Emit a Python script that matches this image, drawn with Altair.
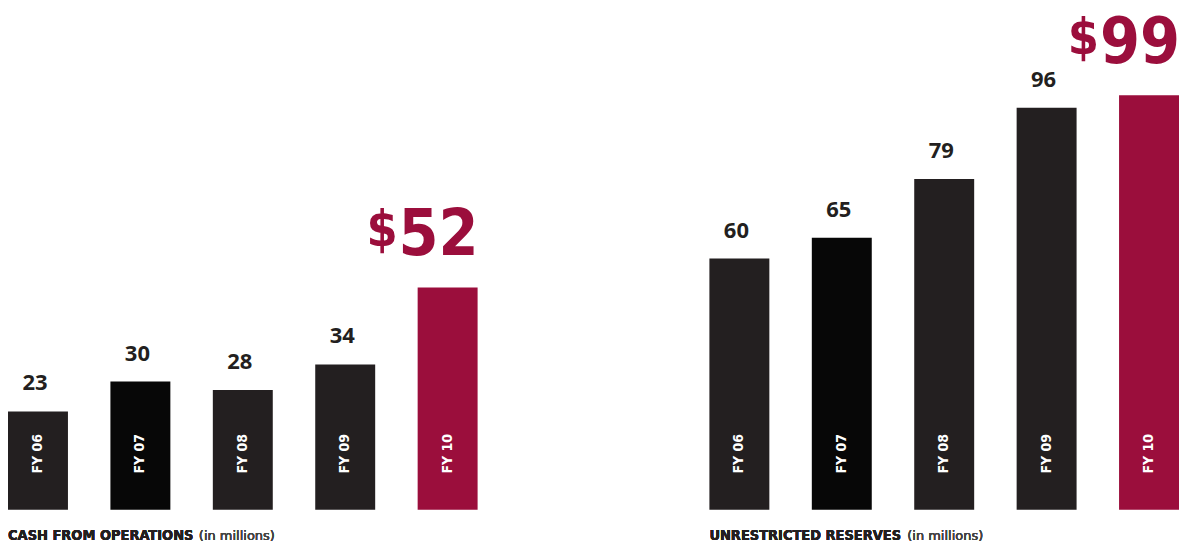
import altair as alt
import pandas as pd

years = ["FY 06", "FY 07", "FY 08", "FY 09", "FY 10"]
cash = [23, 30, 28, 34, 52]
reserves = [60, 65, 79, 96, 99]
bar_colors = ["#231f20", "#070707", "#231f20", "#231f20", "#9b0e3c"]
titles = ["CASH FROM OPERATIONS", "UNRESTRICTED RESERVES"]
unit_note = "(in millions)"

NARROW = "DejaVu Sans Condensed, sans-serif"
CRIMSON = "#9b0e3c"
DARK = "#231f20"
PANEL_W = 470
PANEL_H = 502


def panel(vals, title, ymax, note_x):
    df = pd.DataFrame({"year": years, "value": vals, "label": [str(v) for v in vals]})
    xenc = alt.X("year:N", sort=years, axis=None,
                 scale=alt.Scale(paddingInner=0.41463, paddingOuter=0))
    ysc = alt.Scale(domain=[0, ymax], nice=False, zero=True)
    base = alt.Chart(df).encode(x=xenc)

    bars = base.mark_bar().encode(
        y=alt.Y("value:Q", axis=None, scale=ysc),
        color=alt.Color("year:N", scale=alt.Scale(domain=years, range=bar_colors), legend=None),
    )
    small = base.transform_filter(alt.datum.year != "FY 10").mark_text(
        font="Open Sans", fontSize=22, fontWeight=700, color=DARK,
        baseline="alphabetic", dy=-21, dx=-3,
    ).encode(y=alt.Y("value:Q", scale=ysc), text="label:N")
    big = base.transform_filter(alt.datum.year == "FY 10").mark_text(
        font=NARROW, fontSize=64, fontWeight=700, color=CRIMSON,
        baseline="alphabetic", align="right", dx=31, dy=-32,
    ).encode(y=alt.Y("value:Q", scale=ysc), text="label:N")
    dollar = base.transform_filter(alt.datum.year == "FY 10").mark_text(
        text="$", font=NARROW, fontSize=50, fontWeight=700, color=CRIMSON,
        baseline="alphabetic", align="right", dx=-50, dy=-41,
    ).encode(y=alt.Y("value:Q", scale=ysc))
    fy = base.mark_text(
        font=NARROW, fontSize=14, fontWeight=700, color="white",
        angle=270, align="center", baseline="middle", dx=56,
    ).encode(y=alt.Y(datum=0, scale=ysc), text="year:N")
    cap1 = alt.Chart(df).mark_text(
        text=title, font=NARROW, fontSize=14.5, fontWeight=700, color=DARK,
        align="left", baseline="alphabetic",
    ).encode(x=alt.value(0), y=alt.value(532))
    cap2 = alt.Chart(df).mark_text(
        text=unit_note, font="DejaVu Sans", fontSize=13, color="#444444",
        align="left", baseline="alphabetic",
    ).encode(x=alt.value(note_x), y=alt.value(532))
    return alt.layer(bars, small, big, dollar, fy, cap1, cap2).properties(
        width=PANEL_W, height=PANEL_H)


left = panel(cash, titles[0], 117.3, 191)
right = panel(reserves, titles[1], 119.8, 198)

chart = alt.hconcat(left, right, spacing=232, bounds="flush").properties(
    padding=0, background="white"
).configure_view(stroke=None)

chart.save("out.html", embed_options={"renderer": "svg", "actions": False})
